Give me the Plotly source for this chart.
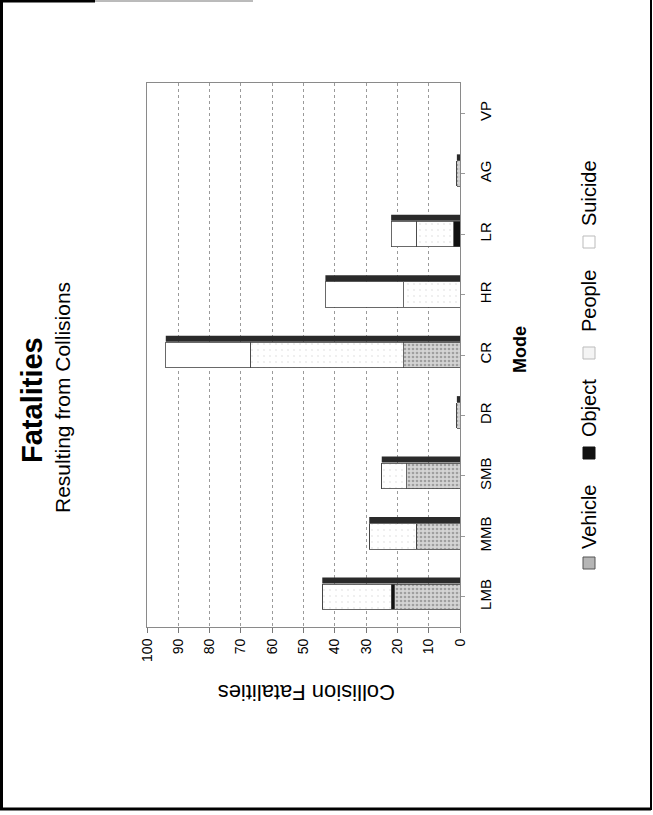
import plotly.graph_objects as go

# chart values (the scanned page is turned a quarter turn anticlockwise)
modes = ["LMB", "MMB", "SMB", "DR", "CR", "HR", "LR", "AG", "VP"]
vehicle = [21, 14, 17, 1, 18, 0, 0, 1, 0]
obj = [1, 0, 0, 0, 0, 0, 2, 0, 0]
people = [22, 15, 8, 0, 49, 18, 12, 0, 0]
suicide = [0, 0, 0, 0, 27, 25, 8, 0, 0]
value_ticks = [0, 10, 20, 30, 40, 50, 60, 70, 80, 90, 100]

W, H = 653, 815
L, R, T, B = 147, 193, 83, 188
PW, PH = W - L - R, H - T - B
FONT = "Liberation Sans, Arial, sans-serif"
pos = list(range(len(modes)))


def px(x):
    return (x - L) / PW


def py(y):
    return (H - B - y) / PH


fig = go.Figure()
series = [
    ("Vehicle", vehicle, "#cdcdcd", dict(shape=".", fgcolor="#6a6a6a", bgcolor="#d4d4d4", size=4, solidity=0.35)),
    ("Object", obj, "#111111", None),
    ("People", people, "#ffffff", dict(shape=".", fgcolor="#d8d8d8", bgcolor="#ffffff", size=6, solidity=0.1)),
    ("Suicide", suicide, "#ffffff", None),
]
for name, vals, col, pat in series:
    marker = dict(color=col, line=dict(color="#444444", width=0.8))
    if pat:
        marker["pattern"] = pat
    fig.add_trace(go.Bar(name=name, y=pos, x=vals, orientation="h", width=0.42, marker=marker))

# dark shaded side of the 3-D columns, drawn along each stack
totals = [v + o + p + s for v, o, p, s in zip(vehicle, obj, people, suicide)]
side_x, side_y = [], []
for i, tot in enumerate(totals):
    if tot > 0:
        side_x += [0, tot, None]
        side_y += [i + 0.27, i + 0.27, None]
fig.add_trace(go.Scatter(x=side_x, y=side_y, mode="lines", line=dict(color="#2a2a2a", width=6),
                         hoverinfo="skip"))

ann = [
    dict(text="<b>Fatalities</b>", x=px(32), y=py(400), size=29),
    dict(text="Resulting from Collisions", x=px(62), y=py(398), size=21),
    dict(text="<b>Mode</b>", x=px(520), y=py(350), size=18),
    dict(text="Vehicle", x=px(589), y=py(517), size=20),
    dict(text="Object", x=px(589), y=py(408), size=20),
    dict(text="People", x=px(589), y=py(301), size=20),
    dict(text="Suicide", x=px(589), y=py(193), size=20),
]
annotations = [
    dict(text=a["text"], x=a["x"], y=a["y"], xref="paper", yref="paper", showarrow=False,
         textangle=-90, xanchor="center", yanchor="middle",
         font=dict(family=FONT, size=a["size"], color="black"))
    for a in ann
]
annotations.append(
    dict(text="Collision Fatalities", x=px(307), y=py(693), xref="paper", yref="paper",
         showarrow=False, textangle=180, xanchor="center", yanchor="middle",
         font=dict(family=FONT, size=22, color="black"))
)

# legend swatches and page frame
shapes = []
for (y0, fill, line) in [(557, "#b5b5b5", "#555"), (447, "#111111", "#111"),
                         (347, "#f4f4f4", "#bbb"), (236, "#ffffff", "#bbb")]:
    shapes.append(dict(type="rect", xref="paper", yref="paper", x0=px(583), x1=px(595),
                       y0=py(y0), y1=py(y0 + 12), fillcolor=fill, line=dict(color=line, width=1)))
frame = dict(color="black", width=3)
shapes += [
    dict(type="line", xref="paper", yref="paper", x0=px(1.5), x1=px(1.5), y0=py(0), y1=py(810), line=frame),
    dict(type="line", xref="paper", yref="paper", x0=px(0), x1=px(651), y0=py(809), y1=py(809), line=frame),
    dict(type="line", xref="paper", yref="paper", x0=px(651), x1=px(651), y0=py(0), y1=py(810),
         line=dict(color="black", width=2)),
    dict(type="line", xref="paper", yref="paper", x0=px(0), x1=px(95), y0=py(1), y1=py(1), line=frame),
    dict(type="line", xref="paper", yref="paper", x0=px(95), x1=px(253), y0=py(1), y1=py(1),
         line=dict(color="#777", width=1)),
]

fig.update_layout(
    width=W, height=H,
    margin=dict(l=L, r=R, t=T, b=B),
    barmode="stack",
    showlegend=False,
    paper_bgcolor="white",
    plot_bgcolor="white",
    font=dict(family=FONT, color="black"),
    xaxis=dict(
        range=[100, 0], tickvals=value_ticks, tickangle=-90,
        tickfont=dict(size=14), ticks="outside", ticklen=5, tickcolor="#777",
        showgrid=True, gridcolor="#9a9a9a", griddash="dot", gridwidth=1,
        showline=True, linecolor="#8a8a8a", linewidth=1, mirror=True, zeroline=False,
    ),
    yaxis=dict(
        side="right", tickangle=-90, tickfont=dict(size=15),
        tickvals=pos, ticktext=modes,
        ticks="outside", ticklen=4, tickcolor="#999", ticklabelstandoff=8,
        showgrid=False, showline=True, linecolor="#8a8a8a", linewidth=1, mirror=True,
        zeroline=False, range=[-0.5, len(modes) - 0.5],
    ),
    annotations=annotations,
    shapes=shapes,
)

# the page has no body margin in the reference scan
fig.write_html("out.html", config={"displayModeBar": False},
               post_script="document.body.style.margin='0';")
